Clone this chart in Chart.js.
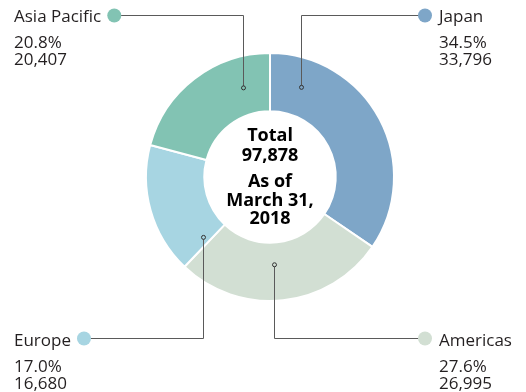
<!DOCTYPE html>
<html>
<head>
<meta charset="utf-8">
<script src="https://cdn.jsdelivr.net/npm/chart.js@4"></script>
<style>
  html, body { margin: 0; padding: 0; background: #fff; }
  #wrap { width: 526px; height: 392px; position: relative; }
</style>
</head>
<body>
<div id="wrap"><canvas id="c"></canvas></div>
<script>
// Employees by region
const regions = ['Japan', 'Americas', 'Europe', 'Asia Pacific'];
const employees = [33796, 26995, 16680, 20407];
const shareLabels = ['34.5%', '27.6%', '17.0%', '20.8%'];
const countLabels = ['33,796', '26,995', '16,680', '20,407'];
const colors = ['#7ea6c8', '#d2dfd3', '#a7d5e2', '#82c3b3'];
const centerLines = ['Total', '97,878', 'As of', 'March 31,', '2018'];

// Callout placement for each region (same order as regions)
const callouts = [
  { side: 'right', textX: 439, nameY: 22,  lineY: 15,  leaderX: 301, top: true,  depth: 0.50 },
  { side: 'right', textX: 439, nameY: 346, lineY: 338, leaderX: 274, top: false, depth: 0.38 },
  { side: 'left',  textX: 14,  nameY: 346, lineY: 338, leaderX: 203, top: false, depth: 0.42 },
  { side: 'left',  textX: 14,  nameY: 22,  lineY: 15,  leaderX: 243, top: true,  depth: 0.47 }
];

const LABEL_FONT = '17px "Open Sans", sans-serif';
const CENTER_FONT = 'bold 18px "Open Sans", sans-serif';

const calloutPlugin = {
  id: 'callouts',
  afterDraw(chart) {
    const ctx = chart.ctx;
    const meta = chart.getDatasetMeta(0);
    ctx.save();
    meta.data.forEach((arc, i) => {
      const c = callouts[i];
      const cx = arc.x, cy = arc.y;
      const r = arc.innerRadius + (arc.outerRadius - arc.innerRadius) * c.depth;
      const dx = c.leaderX - cx;
      const ay = cy + (c.top ? -1 : 1) * Math.sqrt(Math.max(r * r - dx * dx, 0));

      ctx.font = LABEL_FONT;
      const nameW = ctx.measureText(regions[i]).width;
      const dotX = c.side === 'left' ? c.textX + nameW + 13 : c.textX - 14;

      // leader line
      ctx.strokeStyle = '#5a5a5a';
      ctx.lineWidth = 1;
      ctx.beginPath();
      ctx.moveTo(dotX, c.lineY + 0.5);
      ctx.lineTo(c.leaderX + 0.5, c.lineY + 0.5);
      ctx.lineTo(c.leaderX + 0.5, ay);
      ctx.stroke();

      // end marker
      ctx.beginPath();
      ctx.arc(c.leaderX + 0.5, ay, 2, 0, Math.PI * 2);
      ctx.fillStyle = colors[i];
      ctx.fill();
      ctx.strokeStyle = '#333';
      ctx.stroke();

      // colour dot
      ctx.beginPath();
      ctx.arc(dotX, c.lineY + 0.5, 7, 0, Math.PI * 2);
      ctx.fillStyle = colors[i];
      ctx.fill();

      // text
      ctx.fillStyle = '#231f20';
      ctx.textAlign = 'left';
      ctx.textBaseline = 'alphabetic';
      ctx.fillText(regions[i], c.textX, c.nameY);
      ctx.fillText(shareLabels[i], c.textX, c.nameY + 26);
      ctx.fillText(countLabels[i], c.textX, c.nameY + 43);
    });

    // centre caption
    const a0 = meta.data[0];
    ctx.font = CENTER_FONT;
    ctx.fillStyle = '#000';
    ctx.textAlign = 'center';
    const offs = [-36, -16, 10, 29, 47];
    centerLines.forEach((t, k) => ctx.fillText(t, a0.x, a0.y + offs[k]));
    ctx.restore();
  }
};

new Chart(document.getElementById('c'), {
  type: 'doughnut',
  data: {
    labels: regions,
    datasets: [{
      data: employees,
      backgroundColor: colors,
      borderColor: '#ffffff',
      borderWidth: 2
    }]
  },
  options: {
    responsive: true,
    maintainAspectRatio: false,
    animation: false,
    cutout: '53%',
    layout: { padding: { left: 145, right: 131, top: 52, bottom: 90 } },
    plugins: { legend: { display: false }, tooltip: { enabled: false } }
  },
  plugins: [calloutPlugin]
});
</script>
</body>
</html>
